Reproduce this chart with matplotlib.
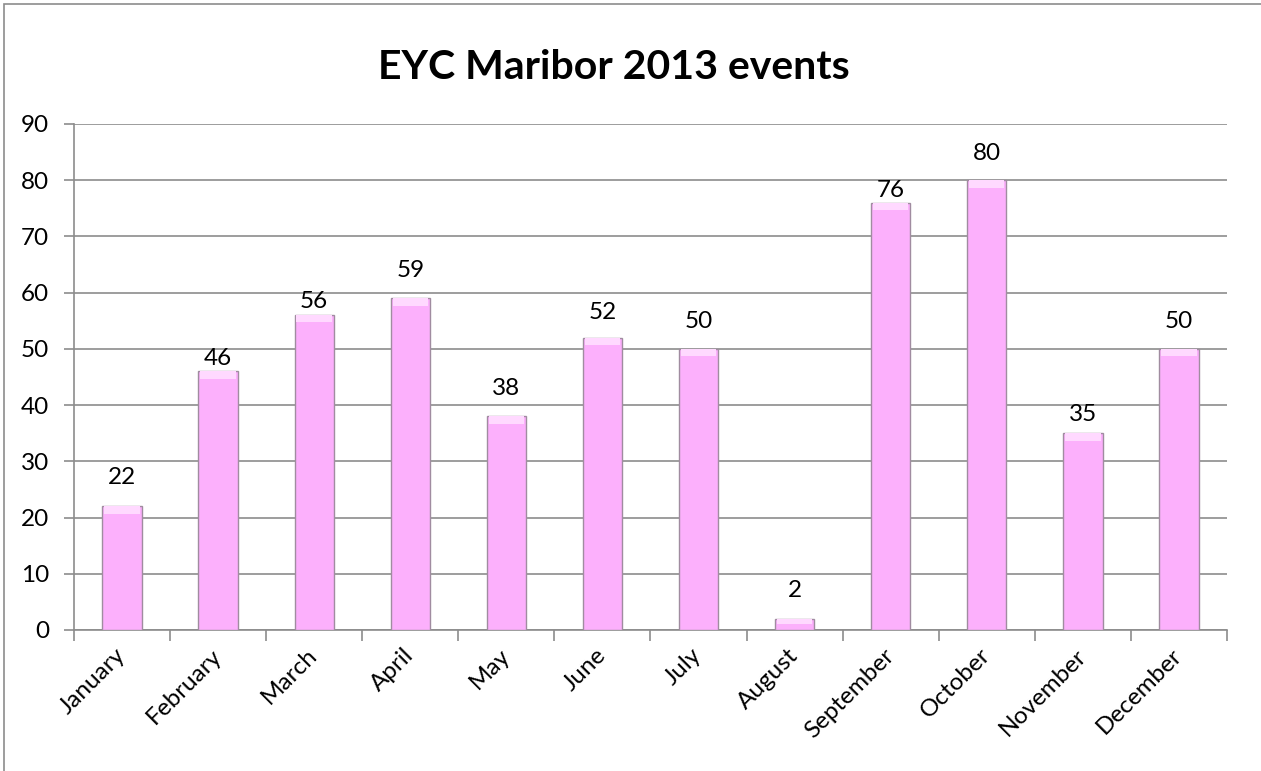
import matplotlib
matplotlib.use("Agg")
import matplotlib.pyplot as plt
from matplotlib.patches import Rectangle

months = ["January", "February", "March", "April", "May", "June", "July",
          "August", "September", "October", "November", "December"]
events = [22, 46, 56, 59, 38, 52, 50, 2, 76, 80, 35, 50]
yticks = [0, 10, 20, 30, 40, 50, 60, 70, 80, 90]
# layout: vertical distance (px) of each data label centre above its bar
label_gap_px = [29, 13, 14, 28, 28, 25, 27, 28, 12, 27, 19, 27]

plt.rcParams['font.family'] = ['Lato', 'DejaVu Sans']

fig = plt.figure(figsize=(12.61, 7.71), dpi=100)
ax = fig.add_axes([0.0587, 0.1829, 0.9143, 0.6563])

# figure border
fig.patches.append(Rectangle((0.003, -0.01), 1.2, 1.005, transform=fig.transFigure,
                             fill=False, edgecolor='#8c8c8c', linewidth=1.2))

x = list(range(len(months)))
W = 0.41
ax.bar(x, events, width=W, color='#FCB0FC', edgecolor='#A08CA0',
       linewidth=1.0, zorder=3)
# light bevel at top of bars
for xi, v in zip(x, events):
    h = min(1.3, v * 0.5)
    ax.bar(xi, h, bottom=v - h, width=W * 0.9, color='#FFD9FF',
           edgecolor='none', zorder=4)

for xi, v, g in zip(x, events, label_gap_px):
    ax.annotate(str(v), (xi, v), xytext=(0, g * 0.72), textcoords='offset points',
                ha='center', va='center', fontsize=17.5, color='black')

ax.set_xlim(-0.5, len(months) - 0.5)
ax.set_ylim(0, 90)
ax.set_yticks(yticks)
ax.set_yticklabels([str(t) for t in yticks], fontsize=17.5)
ax.grid(axis='y', color='#8c8c8c', linewidth=1.2, zorder=0)
ax.set_axisbelow(True)

ax.set_xticks(x)
ax.set_xticklabels(months, rotation=45, ha='right', va='center',
                   rotation_mode='anchor', fontsize=17.5)
ax.tick_params(axis='x', which='major', length=0, pad=16)
ax.set_xticks([i - 0.5 for i in range(len(months) + 1)], minor=True)
ax.tick_params(axis='x', which='minor', length=8, color='#8c8c8c', width=1.2)
ax.tick_params(axis='y', length=7, color='#8c8c8c', width=1.2, pad=11)

for s in ['top', 'right']:
    ax.spines[s].set_visible(False)
for s in ['left', 'bottom']:
    ax.spines[s].set_color('#8c8c8c')
    ax.spines[s].set_linewidth(1.2)

fig.text(614 / 1261, 0.912, "EYC Maribor 2013 events", ha='center', va='center',
         fontsize=29.5, fontweight='bold')

fig.savefig("out.png", dpi=100)
